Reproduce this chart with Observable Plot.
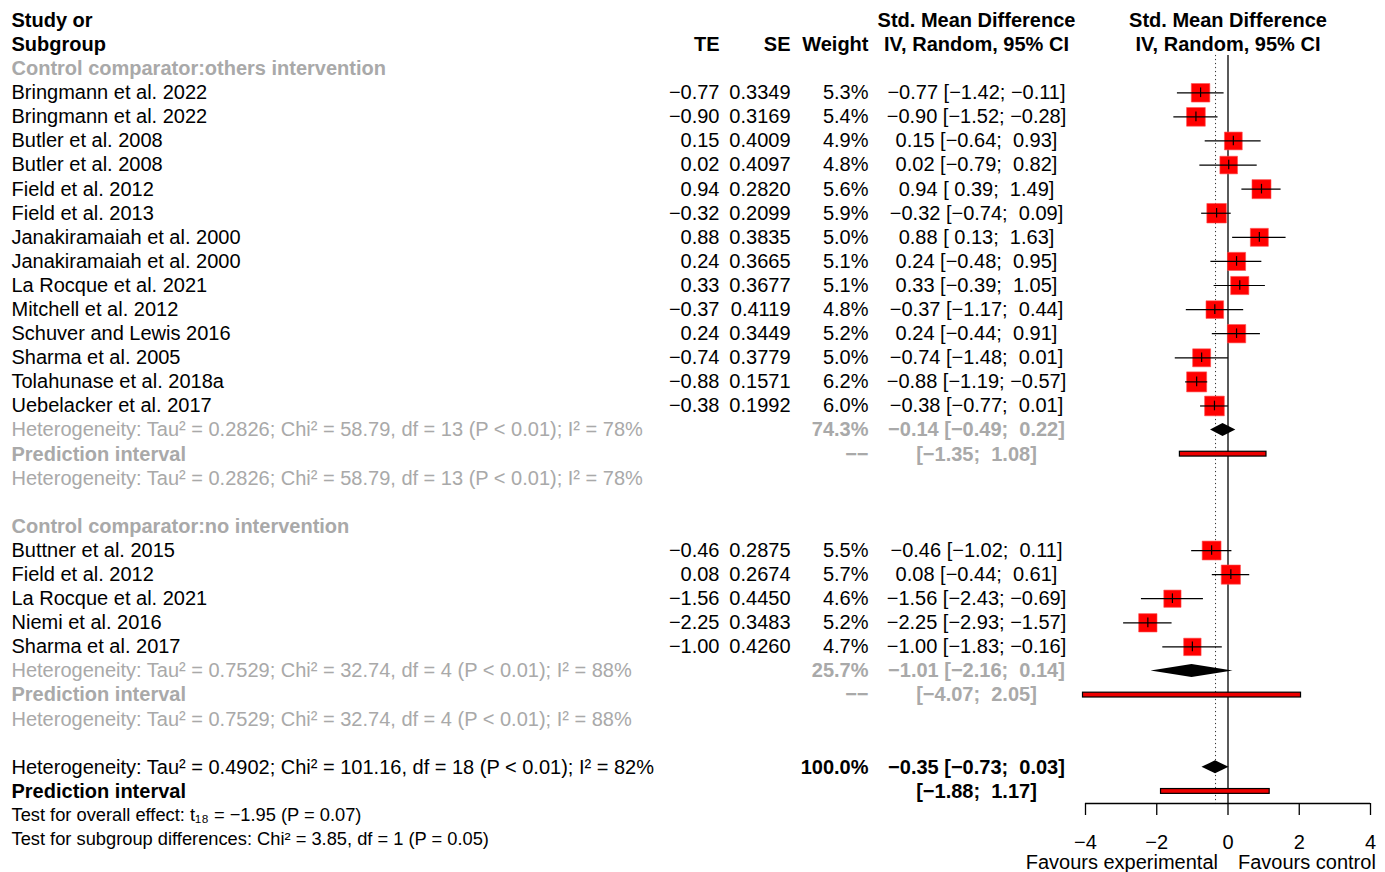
<!DOCTYPE html>
<html><head><meta charset="utf-8">
<script src="https://cdn.jsdelivr.net/npm/d3@7"></script>
<script src="https://cdn.jsdelivr.net/npm/@observablehq/plot@0.6"></script>
<style>body{margin:0;background:#fff}</style>
</head><body><div id="chart"></div>
<script>
// ---------------- data ----------------
const group1Name = "Control comparator:others intervention";
const studies1 = ["Bringmann et al. 2022","Bringmann et al. 2022","Butler et al. 2008","Butler et al. 2008","Field et al. 2012","Field et al. 2013","Janakiramaiah et al. 2000","Janakiramaiah et al. 2000","La Rocque et al. 2021","Mitchell et al. 2012","Schuver and Lewis 2016","Sharma et al. 2005","Tolahunase et al. 2018a","Uebelacker et al. 2017"];
const te1 = [-0.77,-0.90,0.15,0.02,0.94,-0.32,0.88,0.24,0.33,-0.37,0.24,-0.74,-0.88,-0.38];
const se1 = [0.3349,0.3169,0.4009,0.4097,0.2820,0.2099,0.3835,0.3665,0.3677,0.4119,0.3449,0.3779,0.1571,0.1992];
const w1 = [5.3,5.4,4.9,4.8,5.6,5.9,5.0,5.1,5.1,4.8,5.2,5.0,6.2,6.0];
const lo1 = [-1.42,-1.52,-0.64,-0.79,0.39,-0.74,0.13,-0.48,-0.39,-1.17,-0.44,-1.48,-1.19,-0.77];
const hi1 = [-0.11,-0.28,0.93,0.82,1.49,0.09,1.63,0.95,1.05,0.44,0.91,0.01,-0.57,0.01];

const group2Name = "Control comparator:no intervention";
const studies2 = ["Buttner et al. 2015","Field et al. 2012","La Rocque et al. 2021","Niemi et al. 2016","Sharma et al. 2017"];
const te2 = [-0.46,0.08,-1.56,-2.25,-1.00];
const se2 = [0.2875,0.2674,0.4450,0.3483,0.4260];
const w2 = [5.5,5.7,4.6,5.2,4.7];
const lo2 = [-1.02,-0.44,-2.43,-2.93,-1.83];
const hi2 = [0.11,0.61,-0.69,-1.57,-0.16];

// pooled: subgroup 1, subgroup 2, overall
const pooledEst = [-0.14,-1.01,-0.35];
const pooledLo = [-0.49,-2.16,-0.73];
const pooledHi = [0.22,0.14,0.03];
const pooledW = [74.3,25.7,100.0];
const predLo = [-1.35,-4.07,-1.88];
const predHi = [1.08,2.05,1.17];

const het1 = "Heterogeneity: Tau\u00b2 = 0.2826; Chi\u00b2 = 58.79, df = 13 (P < 0.01); I\u00b2 = 78%";
const het2 = "Heterogeneity: Tau\u00b2 = 0.7529; Chi\u00b2 = 32.74, df = 4 (P < 0.01); I\u00b2 = 88%";
const hetAll = "Heterogeneity: Tau\u00b2 = 0.4902; Chi\u00b2 = 101.16, df = 18 (P < 0.01); I\u00b2 = 82%";
const testOverall = "Test for overall effect: t\u2081\u2088 = \u22121.95 (P = 0.07)";
const testSub = "Test for subgroup differences: Chi\u00b2 = 3.85, df = 1 (P = 0.05)";
const xTicks = [-4,-2,0,2,4];
const labelLeft = "Favours experimental", labelRight = "Favours control";
const headerForest = ["Std. Mean Difference","IV, Random, 95% CI"];
const missingWeight = "\u2212\u2212";

// ---------------- layout ----------------
const W = 1385, H = 872, ML = 1085, MR = 15, MT = 20, MB = 69;
const AXIS_ROW = 32.5;
const COL = {study: 11, te: 719, se: 790, weight: 868, ci: 976};
const GREY = "#a9a9a9";
const MINUS = "\u2212", SP = "\u00a0";
const f2 = v => (v < 0 ? MINUS : "") + Math.abs(v).toFixed(2);
const pad = v => (v < 0 ? MINUS : SP) + Math.abs(v).toFixed(2);
const ci = (l, h) => "[" + pad(l) + ";" + SP + pad(h) + "]";

const rowsG1 = studies1.map((s, i) => ({row: 3 + i, study: s, te: te1[i], se: se1[i], w: w1[i], lo: lo1[i], hi: hi1[i]}));
const rowsG2 = studies2.map((s, i) => ({row: 22 + i, study: s, te: te2[i], se: se2[i], w: w2[i], lo: lo2[i], hi: hi2[i]}));
const studyRows = rowsG1.concat(rowsG2);
const pooledRows = [17, 27, 31].map((r, i) => ({row: r, est: pooledEst[i], lo: pooledLo[i], hi: pooledHi[i], w: pooledW[i], s: i < 2 ? "gb" : "b"}));
const predRows = [18, 28, 32].map((r, i) => ({row: r, lo: predLo[i], hi: predHi[i], s: i < 2 ? "gb" : "b"}));

// text items per column
const studyItems = [
  {row: 0, t: "Study or", s: "b"}, {row: 1, t: "Subgroup", s: "b"},
  {row: 2, t: group1Name, s: "gb"},
  ...rowsG1.map(d => ({row: d.row, t: d.study, s: "n"})),
  {row: 17, t: het1, s: "g"}, {row: 18, t: "Prediction interval", s: "gb"}, {row: 19, t: het1, s: "g"},
  {row: 21, t: group2Name, s: "gb"},
  ...rowsG2.map(d => ({row: d.row, t: d.study, s: "n"})),
  {row: 27, t: het2, s: "g"}, {row: 28, t: "Prediction interval", s: "gb"}, {row: 29, t: het2, s: "g"},
  {row: 31, t: hetAll, s: "n"}, {row: 32, t: "Prediction interval", s: "b"}
];
const teItems = [{row: 1, t: "TE", s: "b"}, ...studyRows.map(d => ({row: d.row, t: f2(d.te), s: "n"}))];
const seItems = [{row: 1, t: "SE", s: "b"}, ...studyRows.map(d => ({row: d.row, t: d.se.toFixed(4), s: "n"}))];
const wItems = [{row: 1, t: "Weight", s: "b"},
  ...studyRows.map(d => ({row: d.row, t: d.w.toFixed(1) + "%", s: "n"})),
  ...pooledRows.map(d => ({row: d.row, t: d.w.toFixed(1) + "%", s: d.s})),
  ...predRows.filter(d => d.s === "gb").map(d => ({row: d.row, t: missingWeight, s: d.s}))];
const ciItems = [{row: 0, t: headerForest[0], s: "b"}, {row: 1, t: headerForest[1], s: "b"},
  ...studyRows.map(d => ({row: d.row, t: f2(d.te) + " " + ci(d.lo, d.hi), s: "n"})),
  ...pooledRows.map(d => ({row: d.row, t: f2(d.est) + " " + ci(d.lo, d.hi), s: d.s})),
  ...predRows.map(d => ({row: d.row, t: ci(d.lo, d.hi), s: d.s}))];

const STY = {
  n: {fill: "black", fontWeight: "normal"},
  b: {fill: "black", fontWeight: "bold"},
  g: {fill: GREY, fontWeight: "normal"},
  gb: {fill: GREY, fontWeight: "bold"}
};
function textCol(items, col, anchor) {
  return Object.keys(STY).map(s => Plot.text(items.filter(d => d.s === s), {
    y: "row", text: "t", frameAnchor: "left", dx: COL[col] - ML, textAnchor: anchor, fontSize: 20, ...STY[s]
  }));
}

const diamondPts = pooledRows.flatMap((d, i) => [
  {id: i, y: d.row - 0.27, x1: d.est, x2: d.est},
  {id: i, y: d.row, x1: d.lo, x2: d.hi},
  {id: i, y: d.row + 0.27, x1: d.est, x2: d.est}
]);
const overall = pooledRows[2];

const chart = Plot.plot({
  width: W, height: H,
  marginLeft: ML, marginRight: MR, marginTop: MT, marginBottom: MB,
  style: {fontFamily: "'Liberation Sans', Arial, Helvetica, sans-serif", background: "#fff", overflow: "visible"},
  x: {domain: [-4, 4]},
  y: {domain: [0, AXIS_ROW], reverse: true, axis: null},
  r: {type: "sqrt", domain: [0, 6.2], range: [0, 11.3]},
  marks: [
    Plot.ruleX([0], {y1: 1.45, y2: AXIS_ROW, stroke: "black", strokeWidth: 1.3}),
    Plot.ruleX([overall.est], {y1: 1.45, y2: AXIS_ROW, stroke: "#333", strokeWidth: 1, strokeDasharray: "1.2,2.8"}),
    Plot.dot(studyRows, {x: "te", y: "row", r: "w", symbol: "square", fill: "#ff0000", stroke: "#ff5050", strokeWidth: 0.6}),
    Plot.ruleY(studyRows, {y: "row", x1: "lo", x2: "hi", stroke: "black", strokeWidth: 1.2}),
    Plot.ruleX(studyRows, {x: "te", y1: d => d.row - 0.2, y2: d => d.row + 0.2, stroke: "black", strokeWidth: 1.2}),
    Plot.areaX(diamondPts, {y: "y", x1: "x1", x2: "x2", z: "id", fill: "black"}),
    Plot.rect(predRows, {x1: "lo", x2: "hi", y1: d => d.row - 0.1, y2: d => d.row + 0.1, fill: "#ee0000", stroke: "black", strokeWidth: 1.2}),
    Plot.ruleY([AXIS_ROW], {x1: -4, x2: 4, stroke: "black", strokeWidth: 1.3}),
    Plot.axisX({ticks: xTicks, tickSize: 12, tickPadding: 19, fontSize: 20, label: null, stroke: "black", strokeWidth: 1.3, fill: "black"}),
    Plot.text(headerForest.map((t, i) => ({row: i, t})), {x: 0, y: "row", text: "t", fontSize: 20, fontWeight: "bold", fill: "black"}),
    ...textCol(studyItems, "study", "start"),
    ...textCol(teItems, "te", "end"),
    ...textCol(seItems, "se", "end"),
    ...textCol(wItems, "weight", "end"),
    ...textCol(ciItems, "ci", "middle"),
    Plot.text([{row: 33, t: testOverall}, {row: 34, t: testSub}], {y: "row", text: "t", frameAnchor: "left", dx: COL.study - ML, textAnchor: "start", fontSize: 18.3, fill: "black"}),
    Plot.text([{row: 34.95, t: labelLeft}], {x: 0, y: "row", text: "t", dx: -10, textAnchor: "end", fontSize: 20, fill: "black"}),
    Plot.text([{row: 34.95, t: labelRight}], {x: 0, y: "row", text: "t", dx: 10, textAnchor: "start", fontSize: 20, fill: "black"})
  ]
});
document.getElementById("chart").appendChild(chart);
</script>
</body></html>
